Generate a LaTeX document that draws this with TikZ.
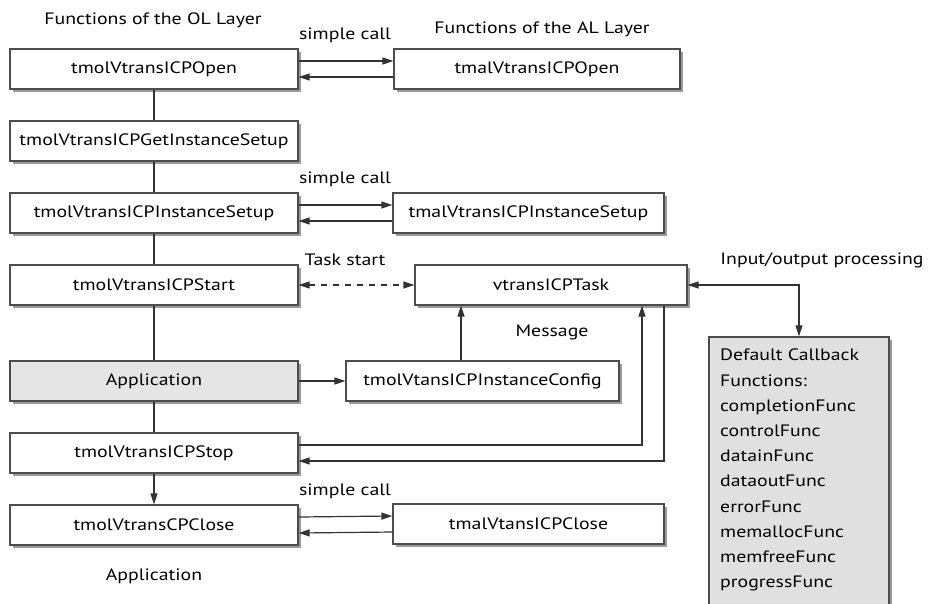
\documentclass[tikz,border=0pt]{standalone}
\usepackage{fontspec}
\setmainfont{PT Sans}[FakeStretch=1.2]
\usetikzlibrary{arrows.meta,shadows}
\begin{document}
\begin{tikzpicture}[x=1pt,y=-1pt,
  font=\fontsize{16.5}{19}\selectfont,
  box/.style={draw=black!70, line width=1.2pt, fill=white, minimum height=40pt, inner sep=0pt,
    drop shadow={shadow xshift=3pt, shadow yshift=-3pt, fill=black!40, opacity=1}},
  appbox/.style={box, fill=black!10},
  link/.style={draw=black!80, line width=1.2pt},
  arr/.style={link, -{Triangle[length=11pt,width=7pt]}},
  darr/.style={link, {Triangle[length=11pt,width=7pt]}-{Triangle[length=11pt,width=7pt]}},
  lbl/.style={inner sep=0pt}]
\useasboundingbox (0,0) rectangle (936,603);

% OL layer column
\node[box, minimum width=288pt] (olopen)  at (154,69)  {tmolVtransICPOpen};
\node[box, minimum width=288pt] (olget)   at (154,141) {tmolVtransICPGetInstanceSetup};
\node[box, minimum width=288pt] (olsetup) at (154,213) {tmolVtransICPInstanceSetup};
\node[box, minimum width=288pt] (olstart) at (154,285) {tmolVtransICPStart};
\node[appbox, minimum width=288pt] (app)  at (154,381) {Application};
\node[box, minimum width=288pt] (olstop)  at (154,453) {tmolVtransICPStop};
\node[box, minimum width=288pt] (olclose) at (154,525) {tmolVtransCPClose};

% AL layer and task boxes
\node[box, minimum width=286pt] (alopen)  at (537,69)    {tmalVtransICPOpen};
\node[box, minimum width=271pt] (alsetup) at (528.5,213) {tmalVtransICPInstanceSetup};
\node[box, minimum width=271pt] (alclose) at (528.5,524) {tmalVtansICPClose};
\node[box, minimum width=272pt] (task)    at (551,285)   {vtransICPTask};
\node[box, minimum width=273pt] (config)  at (482.5,381) {tmolVtansICPInstanceConfig};

% callback box
\node[appbox, fill=black!12, minimum width=180pt, minimum height=281pt] (cb) at (799,477.5) {};
\node[anchor=north west, align=left, inner sep=0pt, font=\fontsize{16.5}{25.2}\selectfont] (cbtext) at (720,349)
  {Default Callback\\Functions:\\completionFunc\\controlFunc\\datainFunc\\dataoutFunc\\errorFunc\\memallocFunc\\memfreeFunc\\progressFunc};

% titles and labels
\node[lbl] (oltitle) at (153,20)  {Functions of the OL Layer};
\node[lbl] (altitle) at (542,29)  {Functions of the AL Layer};
\node[lbl] (sc1) at (345,35)  {simple call};
\node[lbl] (sc2) at (345,179) {simple call};
\node[lbl] (sc3) at (345,491) {simple call};
\node[lbl] (tstart) at (345,260) {Task start};
\node[lbl] (msg) at (552,332) {Message};
\node[lbl] (io) at (822,260) {Input/output processing};
\node[lbl] (appl) at (154,576) {Application};

% vertical sequence
\draw[link] (olopen) -- (olget);
\draw[link] (olget) -- (olsetup);
\draw[link] (olsetup) -- (olstart);
\draw[link] (olstart) -- (app);
\draw[link] (app) -- (olstop);
\draw[arr] (olstop) -- (olclose);

% simple calls
\draw[arr] ([yshift=8pt]olopen.east) -- ([yshift=8pt]alopen.west);
\draw[arr] ([yshift=-8pt]alopen.west) -- ([yshift=-8pt]olopen.east);
\draw[arr] ([yshift=8pt]olsetup.east) -- ([yshift=8pt]alsetup.west);
\draw[arr] ([yshift=-8pt]alsetup.west) -- ([yshift=-8pt]olsetup.east);
\draw[arr] ([yshift=8pt]olclose.east) -- ([yshift=8pt]alclose.west);
\draw[arr] ([yshift=-8pt]alclose.west) -- ([yshift=-8pt]olclose.east);

% task start
\draw[darr, dash pattern=on 6pt off 6pt] (olstart) -- (task);

% application / config / task
\draw[arr] (app) -- (config);
\draw[arr] ([xshift=-21.5pt]config.north) -- ([xshift=-21.5pt]config.north |- task.south);
\draw[arr] ([yshift=8pt]olstop.east) -| ([xshift=91pt]task.south);
\draw[arr] ([xshift=113pt]task.south) |- ([yshift=-8pt]olstop.east);

% input/output processing
\draw[darr] (task.east) -| (cb.north);
\end{tikzpicture}
\end{document}
